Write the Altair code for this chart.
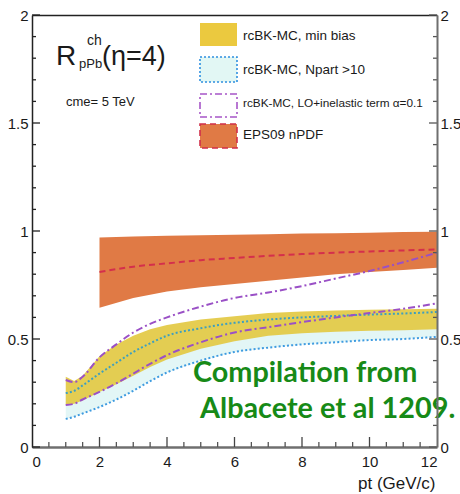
import altair as alt
import pandas as pd

# ---------------- data ----------------
x_band = [1.0, 1.25, 1.5, 2, 2.5, 3, 3.5, 4, 5, 6, 7, 8, 9, 10, 11, 12]
minbias_hi = [0.325, 0.305, 0.33, 0.42, 0.475, 0.515, 0.545, 0.565, 0.59, 0.605, 0.62, 0.627, 0.632, 0.635, 0.638, 0.64]
minbias_lo = [0.195, 0.20, 0.215, 0.255, 0.29, 0.33, 0.37, 0.405, 0.455, 0.49, 0.515, 0.527, 0.533, 0.538, 0.541, 0.545]
npart_hi = [0.25, 0.26, 0.285, 0.34, 0.39, 0.44, 0.48, 0.515, 0.55, 0.575, 0.59, 0.60, 0.607, 0.613, 0.618, 0.625]
npart_lo = [0.13, 0.14, 0.155, 0.185, 0.22, 0.26, 0.305, 0.345, 0.40, 0.44, 0.46, 0.475, 0.485, 0.495, 0.50, 0.51]
inel_hi = [0.31, 0.30, 0.325, 0.415, 0.475, 0.53, 0.57, 0.60, 0.65, 0.69, 0.715, 0.745, 0.78, 0.815, 0.855, 0.90]
inel_lo = [0.195, 0.20, 0.22, 0.255, 0.295, 0.34, 0.385, 0.425, 0.485, 0.53, 0.555, 0.578, 0.60, 0.62, 0.64, 0.665]

x_eps = [2, 3, 4, 5, 6, 7, 8, 9, 10, 11, 12]
eps_hi = [0.97, 0.975, 0.978, 0.98, 0.983, 0.985, 0.988, 0.99, 0.992, 0.995, 0.997]
eps_lo = [0.645, 0.69, 0.72, 0.74, 0.755, 0.77, 0.785, 0.80, 0.81, 0.82, 0.83]
eps_c = [0.81, 0.835, 0.85, 0.865, 0.875, 0.885, 0.893, 0.90, 0.905, 0.91, 0.915]

x_major = [0, 2, 4, 6, 8, 10, 12]
x_minor = [0.5, 1, 1.5, 2.5, 3, 3.5, 4.5, 5, 5.5, 6.5, 7, 7.5, 8.5, 9, 9.5, 10.5, 11, 11.5]
y_major = [0, 0.5, 1, 1.5, 2]
y_minor = [0.1, 0.2, 0.3, 0.4, 0.6, 0.7, 0.8, 0.9, 1.1, 1.2, 1.3, 1.4, 1.6, 1.7, 1.8, 1.9]

legend_labels = ["rcBK-MC, min bias", "rcBK-MC, Npart >10",
                 "rcBK-MC, LO+inelastic term \u03b1=0.1", "EPS09 nPDF"]
note_lines = ["Compilation from", "Albacete et al 1209."]

# ---------------- layout ----------------
W, H = 405, 432
SANS = "Liberation Sans, Arial, sans-serif"

xs = alt.Scale(domain=[0, 12], nice=False, zero=False)
ys = alt.Scale(domain=[0, 2], nice=False, zero=False)

band = pd.DataFrame({"x": x_band, "mb_hi": minbias_hi, "mb_lo": minbias_lo,
                     "np_hi": npart_hi, "np_lo": npart_lo,
                     "in_hi": inel_hi, "in_lo": inel_lo})
eps = pd.DataFrame({"x": x_eps, "hi": eps_hi, "lo": eps_lo, "c": eps_c})

ax_common = dict(ticks=False, grid=False, title=None, labelFont=SANS,
                 labelColor="#1a1a1a", format="~g")

x_bottom = alt.Axis(orient="bottom", values=x_major, labelFontSize=15, labelPadding=7,
                    domainColor="#6f6f6f", domainWidth=2.5, **ax_common)
x_top = alt.Axis(orient="top", labels=False, domainColor="#222", domainWidth=1.5,
                 ticks=False, grid=False, title=None)
y_left = alt.Axis(orient="left", values=y_major, labelFontSize=15, labelPadding=4,
                  domainColor="#222", domainWidth=1.5, **ax_common)
y_right = alt.Axis(orient="right", values=y_major, labelFontSize=15, labelPadding=3,
                   domainColor="#6f6f6f", domainWidth=2, zindex=1, **ax_common)

base = alt.Chart(band)

cyan = base.mark_area(color="#e3f6f6").encode(
    x=alt.X("x:Q", scale=xs, axis=x_bottom),
    y=alt.Y("np_lo:Q", scale=ys, axis=y_left), y2="np_hi:Q")
yellow = base.mark_area(color="#e3c943", opacity=0.92).encode(
    x=alt.X("x:Q", scale=xs, axis=x_top),
    y=alt.Y("mb_lo:Q", scale=ys, axis=y_right), y2="mb_hi:Q")
orange = alt.Chart(eps).mark_area(color="#e07a45").encode(
    x=alt.X("x:Q", scale=xs, axis=None),
    y=alt.Y("lo:Q", scale=ys, axis=None), y2="hi:Q")


def line(df, field, color, dash, width=2.0):
    return alt.Chart(df).mark_line(color=color, strokeDash=dash, strokeWidth=width,
                                   interpolate="monotone").encode(
        x=alt.X("x:Q", scale=xs, axis=None),
        y=alt.Y(f"{field}:Q", scale=ys, axis=None))


blue_lo = line(band, "np_lo", "#3e9be0", [2, 2.2])
teal_hi = line(band, "np_hi", "#3d9fc0", [2, 2.2])
purp_hi = line(band, "in_hi", "#9a50c6", [7, 3, 2, 3])
purp_lo = line(band, "in_lo", "#9a50c6", [7, 3, 2, 3])
red_c = line(eps, "c", "#d42f4c", [6, 4])


def ticks_y(values, x0, x1, color):
    return alt.Chart(pd.DataFrame({"v": values})).mark_rule(color=color, strokeWidth=1.3).encode(
        y=alt.Y("v:Q", scale=ys, axis=None), x=alt.value(x0), x2=alt.value(x1))


def ticks_x(values, length, color):
    return alt.Chart(pd.DataFrame({"v": values})).mark_rule(color=color, strokeWidth=1.3).encode(
        x=alt.X("v:Q", scale=xs, axis=None), y=alt.value(H), y2=alt.value(H - length))


tick_layers = [
    ticks_y(y_major, 0, 8, "#222"), ticks_y(y_minor, 0, 4, "#222"),
    ticks_y(y_major, W - 8, W, "#555"), ticks_y(y_minor, W - 4, W, "#555"),
    ticks_x(x_major[1:-1], 10, "#444"), ticks_x(x_minor, 5, "#555"),
]

# ---------------- legend ----------------
one = pd.DataFrame({"k": [0]})


def box(x0, x1, y0, y1, fill, stroke=None, dash=None):
    kw = dict(fill=fill)
    if stroke:
        kw.update(stroke=stroke, strokeWidth=1.6)
    if dash:
        kw.update(strokeDash=dash)
    return alt.Chart(one).mark_rect(**kw).encode(
        x=alt.value(x0), x2=alt.value(x1), y=alt.value(y0), y2=alt.value(y1))


def label(txt, x, y, size, font=SANS, color="#1a1a1a", weight="normal",
          align="left", baseline="middle"):
    return alt.Chart(one).mark_text(text=txt, font=font, fontSize=size, color=color,
                                    fontWeight=weight, align=align,
                                    baseline=baseline).encode(
        x=alt.value(x), y=alt.value(y))


LX0, LX1, TX = 168, 205, 211
legend_layers = [
    box(LX0, LX1, 8, 31, "#ebc93f"),
    box(LX0, LX1, 42, 67, "#e2f7f4", "#2f90e0", [2, 2]),
    box(LX0, LX1, 79, 102, "#ffffff", "#a756c8", [7, 3, 2, 3]),
    box(LX0, LX1, 109, 133, "#e07a45", "#d02f4a", [6, 4]),
    label(legend_labels[0], TX, 21, 13.5),
    label(legend_labels[1], TX, 55, 13.5),
    label(legend_labels[2], TX, 88, 11.8),
    label(legend_labels[3], TX, 120, 13.5),
]

# ---------------- title / notes ----------------
title_layers = [
    label("R", 24, 50, 28, baseline="alphabetic"),
    label("ch", 55, 30, 14, baseline="alphabetic"),
    label("pPb", 47, 53, 13, baseline="alphabetic"),
    label("(\u03b7=4)", 70, 50, 27, baseline="alphabetic"),
    label("cme= 5 TeV", 34, 91, 13, baseline="alphabetic"),
    label(note_lines[0], 161, 367, 28.8, font="Lato", color="#178a17", weight="bold",
          baseline="alphabetic"),
    label(note_lines[1], 168, 403, 28.8, font="Lato", color="#178a17", weight="bold",
          baseline="alphabetic"),
    label("pt (GeV/c)", 326, 474, 17, baseline="alphabetic"),
]

chart = alt.layer(
    cyan, yellow, orange, blue_lo, teal_hi, purp_lo, purp_hi, red_c,
    *tick_layers, *legend_layers, *title_layers
).resolve_axis(x="independent", y="independent").properties(
    width=W, height=H,
    autosize=alt.AutoSizeParams(type="none"),
    padding={"left": 32, "top": 15, "right": 23, "bottom": 47},
).configure_view(stroke=None).configure(background="white")

chart.save("out.html", embed_options={"renderer": "svg", "actions": False})
